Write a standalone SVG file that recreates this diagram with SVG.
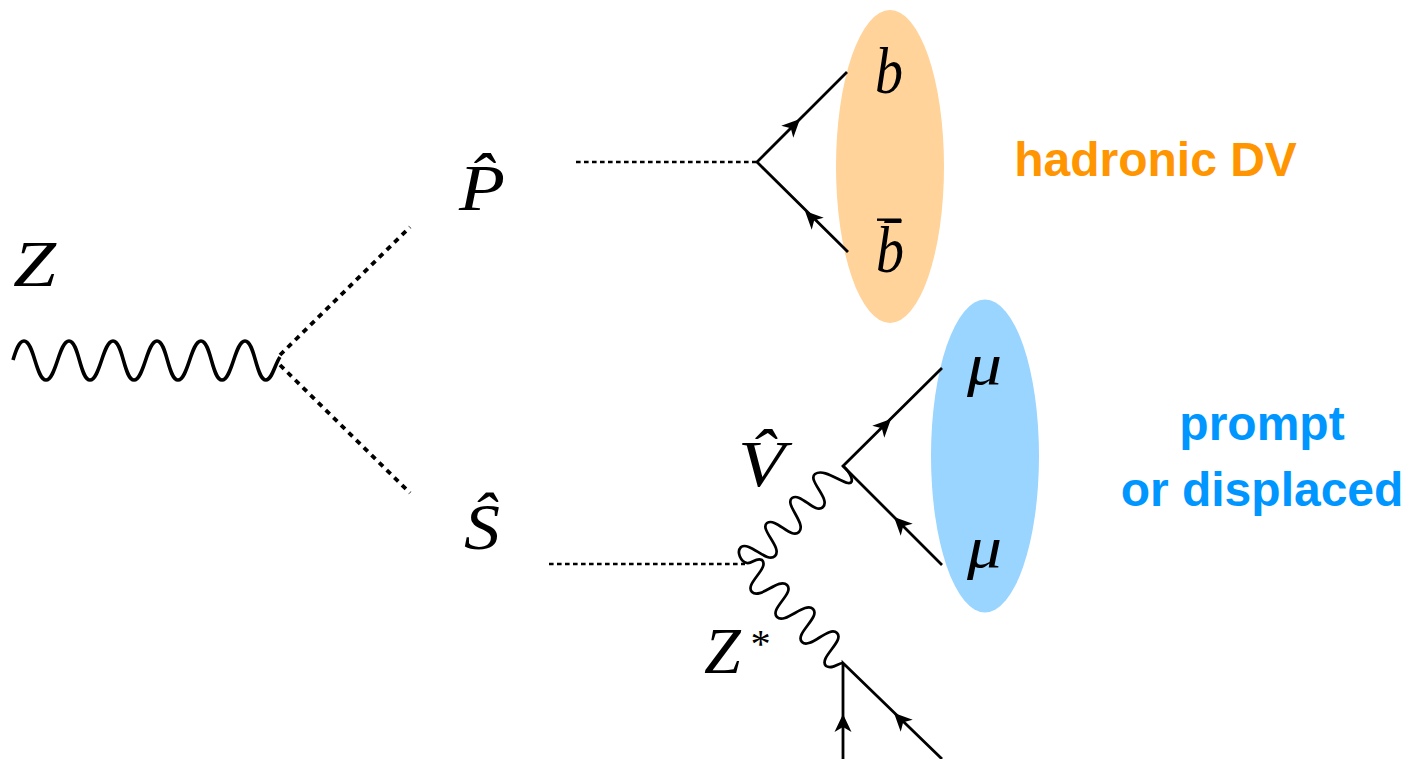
<svg xmlns="http://www.w3.org/2000/svg" width="1406" height="759" viewBox="0 0 1406 759">
<style>
.m{font-family:"Liberation Serif","DejaVu Serif",serif;font-style:italic;font-size:66px;fill:#000}
.n{font-size:60px}
.l{font-family:"Liberation Sans",Arial,sans-serif;font-weight:700;font-size:48px;text-anchor:middle}
.f{fill:none;stroke:#000;stroke-width:2.8}
.w{fill:none;stroke:#000;stroke-width:2.7;stroke-linejoin:round}
.t{stroke-width:3.6}
.d{fill:none;stroke:#000;stroke-width:2.5;stroke-dasharray:4.6 3.4}
.D{fill:none;stroke:#000;stroke-width:3.8;stroke-dasharray:5.5 5.2}
</style>
<defs><path id="a" d="M0 0L-18 -8.500L-13 0L-18 8.500Z" fill="#000"/></defs>
<rect width="1406" height="759" fill="#fff"/>
<g id="blob-hadronic"><ellipse cx="890" cy="166.500" rx="54" ry="156.500" fill="#ffd399"/></g>
<g id="blob-prompt"><ellipse cx="985" cy="456" rx="54" ry="156.500" fill="#99d5ff"/></g>
<g id="connectors">
<path class="w t" d="M13 360C16 350 19 341 24 341C34 341 36 380 46 380C56 380 59 341 69 341C79 341 80 380 90 380C100 380 103 341 113 341C123 341 124 380 134 380C144 380 147 341 157 341C167 341 168 380 178 380C188 380 191 341 201 341C211 341 212 380 222 380C232 380 235 341 245 341C255 341 256 380 266 380C272 380 275 364 280 357"/>
<path class="D" d="M280 355L410 227"/>
<path class="D" d="M280 365L410 493"/>
<path class="d" d="M576 162H757"/>
<path class="d" d="M549 564H745"/>
<path class="f" d="M847 72L757 162L848 252"/>
<path class="f" d="M942 368L843 466L942 565"/>
<path class="f" d="M843 759V663L942 759"/>
<path class="w" d="M843 466C850 472 856 484 848 483C840 482 824 468 815 474C807 480 831 499 823 507C815 515 801 492 792 498C784 504 807 524 799 532C791 540 776 517 767 523C759 529 783 548 775 556C767 564 750 541 741 547C736 552 741 562 747 563C752 564 756 557 762 560C770 568 744 584 752 592C760 600 779 577 787 585C795 593 769 609 777 617C785 625 805 601 813 609C821 617 794 634 802 642C810 650 829 625 837 633C845 641 818 658 826 666C832 670 838 663 843 663"/>
<use href="#a" transform="translate(800 119) rotate(-45)"/>
<use href="#a" transform="translate(805 211) rotate(-135)"/>
<use href="#a" transform="translate(891 419) rotate(-45)"/>
<use href="#a" transform="translate(894 517) rotate(-135)"/>
<use href="#a" transform="translate(843 714) rotate(-90)"/>
<use href="#a" transform="translate(894 713) rotate(-135)"/>
</g>
<g id="node-z"><text class="m" x="13" y="286" textLength="43" lengthAdjust="spacingAndGlyphs">Z</text></g>
<g id="node-p"><text class="m" x="459" y="210" textLength="46" lengthAdjust="spacingAndGlyphs">P̂</text></g>
<g id="node-s"><text class="m" x="464" y="549" textLength="36" lengthAdjust="spacingAndGlyphs">Ŝ</text></g>
<g id="node-v"><text class="m" x="738" y="486" textLength="47" lengthAdjust="spacingAndGlyphs">V̂</text></g>
<g id="node-zstar"><text class="m" x="704" y="673"><tspan>Z</tspan><tspan font-size="40" dy="-16" dx="8">*</tspan></text></g>
<g id="node-b"><text class="m" x="875" y="93" textLength="28" lengthAdjust="spacingAndGlyphs">b</text></g>
<g id="node-bbar"><text class="m" x="876" y="272" textLength="28" lengthAdjust="spacingAndGlyphs">b̄</text><rect x="877" y="218.500" width="24" height="2.400"/></g>
<g id="node-mu1"><text class="m n" x="967" y="384" textLength="35" lengthAdjust="spacingAndGlyphs">μ</text></g>
<g id="node-mu2"><text class="m n" x="967" y="567" textLength="35" lengthAdjust="spacingAndGlyphs">μ</text></g>
<g id="label-hadronic"><text class="l" x="1155.500" y="176" fill="#ff9500">hadronic DV</text></g>
<g id="label-prompt"><text class="l" x="1262" y="440" fill="#0096ff">prompt</text><text class="l" x="1262" y="506" fill="#0096ff">or displaced</text></g>
</svg>
